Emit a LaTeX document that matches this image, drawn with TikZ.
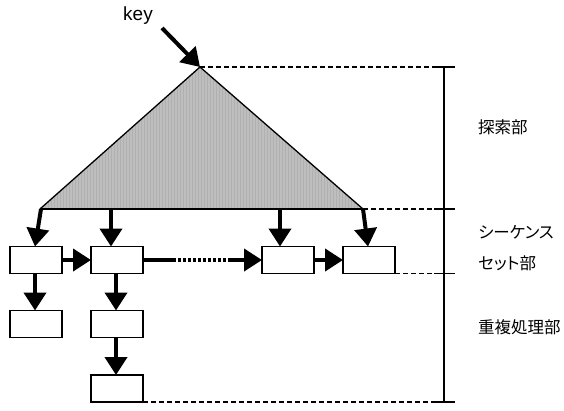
\documentclass[tikz,border=0pt]{standalone}
\usepackage{fontspec}
\setmainfont{Liberation Sans}
\newfontfamily\jp[RawFeature=+palt]{Noto Sans CJK JP}
\usetikzlibrary{arrows.meta,patterns}
\definecolor{treegray}{RGB}{190,190,190}
\begin{document}
\begin{tikzpicture}[x=1pt,y=-1pt,
  rec/.style={draw,line width=1.3pt,minimum width=52pt,minimum height=27pt,inner sep=0pt,outer sep=0pt},
  link/.style={line width=4pt,-{Triangle[length=18pt,width=22pt]}},
  guide/.style={line width=1.4pt,dash pattern=on 5pt off 3pt},
  scale line/.style={line width=1.2pt},
  lbl/.style={anchor=west,inner sep=0pt,font=\jp\fontsize{16.5}{18}\selectfont}]
\useasboundingbox (0,0) rectangle (564,410);

% search tree
\coordinate (apex) at (200,67);
\coordinate (bl) at (40,209);
\coordinate (br) at (363,209);
\fill[treegray] (apex) -- (bl) -- (br) -- cycle;
\fill[pattern=vertical lines,pattern color=gray!62] (apex) -- (bl) -- (br) -- cycle;
\draw[line width=1.3pt,line join=miter] (bl) -- (apex) -- (br);
\draw[line width=2pt] (bl) -- (br);

% key input
\node (key) at (138,16) {\fontsize{19}{21}\selectfont key};
\coordinate (keystart) at (162,28);
\draw[link] (keystart) -- (apex);

% sequence set
\node[rec] (b1) at (36,260) {};
\node[rec] (b2) at (117,260) {};
\node[rec] (b3) at (288,260) {};
\node[rec] (b4) at (369,260) {};
% duplicate chains
\node[rec] (c1) at (36,324) {};
\node[rec] (c2) at (117,324) {};
\node[rec] (d2) at (117,388.5) {};

% leaf pointers from the tree base
\coordinate (t1) at (41,209);
\coordinate (t2) at (111,209);
\coordinate (t3) at (280,209);
\coordinate (t4) at (363,209);
\draw[link] (t1) -- ([xshift=-1pt]b1.north);
\draw[link] (t2) -- (t2 |- b2.north);
\draw[link] (t3) -- (t3 |- b3.north);
\draw[link] (t4) -- ([xshift=-1pt]b4.north);

% horizontal chain
\draw[link] (b1.east) -- (b2.west);
\coordinate (m1) at (173,260);
\coordinate (m2) at (231,260);
\draw[line width=4pt] (b2.east) -- (m1);
\draw[line width=4pt,dash pattern=on 3pt off 2pt] (m1) -- (m2);
\draw[link] (m2) -- (b3.west);
\draw[link] (b3.east) -- (b4.west);

% downward chains
\draw[link] ([xshift=-1pt]b1.south) -- ([xshift=-1pt]c1.north);
\draw[link] ([xshift=-1pt]b2.south) -- ([xshift=-1pt]c2.north);
\draw[link] ([xshift=-1pt]c2.south) -- ([xshift=-1pt]d2.north);

% level guides
\coordinate (s0) at (apex -| 444,0);
\coordinate (s1) at (br -| 444,0);
\coordinate (s2) at (b4.south -| 444,0);
\coordinate (s3) at (d2.south -| 444,0);
\draw[guide] (apex) -- ([xshift=-10pt]s0);
\draw[guide] (br) -- ([xshift=-10pt]s1);
\draw[guide] (b4.south east) -- ([xshift=-10pt]s2);
\draw[guide] (d2.south east) -- ([xshift=-10pt]s3);

% scale bar
\draw[scale line] (s0) -- (s3);
\foreach \s in {s0,s1,s2,s3}
  \draw[scale line] ([xshift=-10pt]\s) -- ([xshift=11pt]\s);

% section labels
\node[lbl] (search) at (478,127.5) {探索部};
\node[lbl] (seq1) at (478,232) {シーケンス};
\node[lbl] (seq2) at (478,263) {セット部};
\node[lbl] (dup) at (478,327) {重複処理部};
\end{tikzpicture}
\end{document}
